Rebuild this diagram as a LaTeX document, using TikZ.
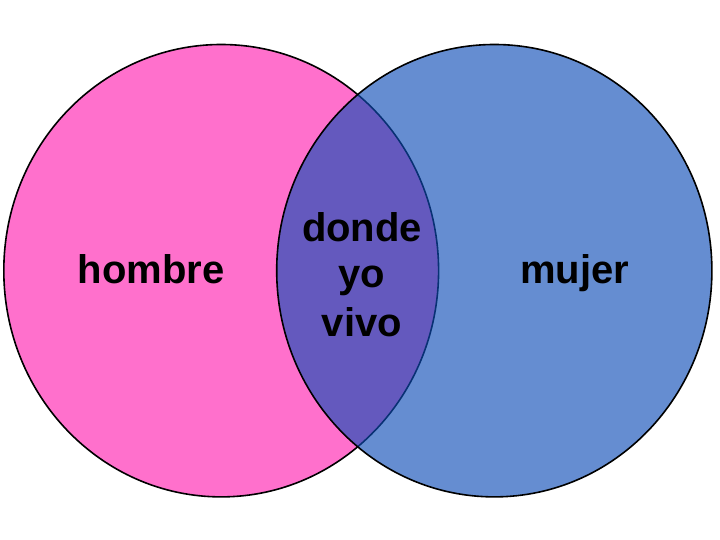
\documentclass[tikz,border=0pt]{standalone}
\usepackage{fontspec}
\newfontfamily\vennfont{Liberation Sans}
\usepackage{tikz}

\definecolor{hombrepink}{RGB}{255,112,204}
\definecolor{mujerblue}{RGB}{14,77,183}

\begin{document}
\begin{tikzpicture}[
x=1pt,y=1pt,
set/.style={draw=black,line width=1.6pt},
label/.style={font=\vennfont\bfseries\fontsize{40}{46}\selectfont,inner sep=0pt,anchor=base} ]

\useasboundingbox (0,0) rectangle (720,540);

\filldraw[set,fill=hombrepink] (221.2,269.3) ellipse [x radius=217.4, y radius=226.2];

\filldraw[set,fill=mujerblue,fill opacity=0.64] (494.3,269.3) ellipse [x radius=217.6, y radius=226.2];

\node[label](hombre) at (151,256) {hombre};

\node[label](mujer) at (574.5,256) {mujer};

\node[label](donde) at (362,298) {donde};

\node[label](yo) at (362,252) {yo};

\node[label](vivo) at (362,203) {vivo};

\end{tikzpicture}
\end{document}
